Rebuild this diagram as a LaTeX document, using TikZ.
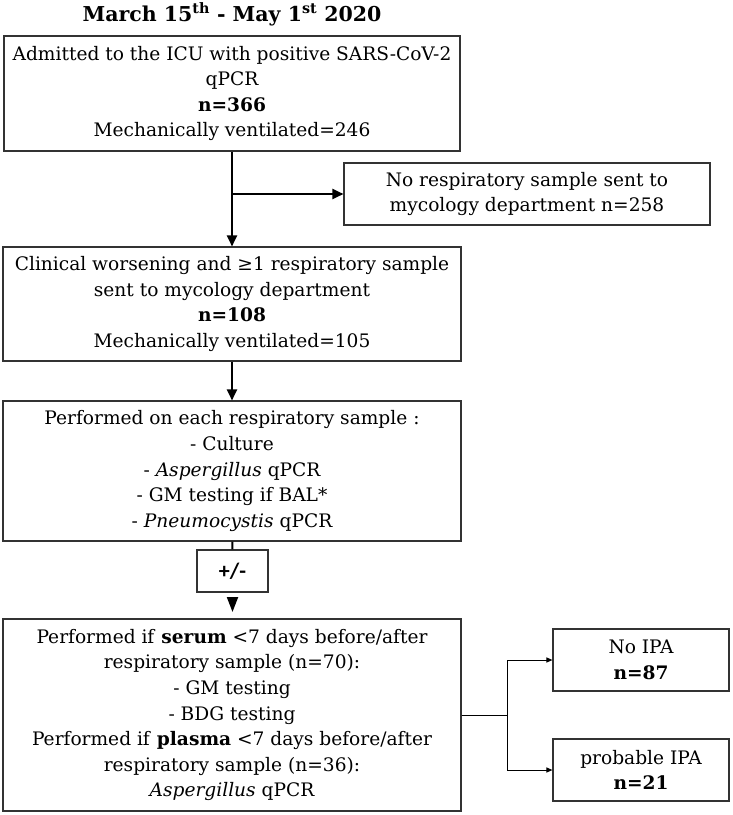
\documentclass[tikz,border=0pt]{standalone}
\usepackage{fontspec}
\setmainfont{DejaVu Serif}
\newfontfamily\signfont{Carlito}
\usetikzlibrary{arrows.meta, positioning}

\tikzset{
  flowbox/.style={draw=black!80, line width=1.1pt, align=center, inner sep=0pt,
    font=\fontsize{18.6}{25.6}\selectfont},
  flowarrow/.style={-{Triangle[length=11pt,width=10pt]}, line width=2pt},
  thinarrow/.style={-{Triangle[length=6pt,width=5pt]}, line width=1pt},
}

\begin{document}
\begin{tikzpicture}[x=1pt,y=-1pt]
  \useasboundingbox (0,0) rectangle (733,815);

  % title
  \node[anchor=base, font=\bfseries\fontsize{20.5}{24}\selectfont] (title) at (232,21)
    {March 15\textsuperscript{th} - May 1\textsuperscript{st} 2020};

  % main column
  \node[flowbox, minimum width=456pt, minimum height=115pt] (adm) at (232,93.5)
    {Admitted to the ICU with positive SARS-CoV-2\\ qPCR\\ \textbf{n=366}\\ Mechanically ventilated=246};
  \node[flowbox, minimum width=366pt, minimum height=62pt] (nosamp) at (527,194)
    {No respiratory sample sent to\\ mycology department n=258};
  \node[flowbox, minimum width=458pt, minimum height=114pt] (clin) at (232,304)
    {Clinical worsening and ≥1 respiratory sample\\ sent to mycology department\\ \textbf{n=108}\\ Mechanically ventilated=105};
  \node[flowbox, minimum width=458pt, minimum height=140pt] (perf) at (232,471)
    {Performed on each respiratory sample :\\ - Culture\\ - \textit{Aspergillus} qPCR\\ - GM testing if BAL*\\ - \textit{Pneumocystis} qPCR};
  \node[flowbox, minimum width=71pt, minimum height=42pt, font=\signfont\bfseries\fontsize{22}{24}\selectfont] (pm) at (232.5,571) {+/-};
  \coordinate (tip) at (232.5,612);
  \node[flowbox, minimum width=458pt, minimum height=192pt] (blood) at (232,715)
    {Performed if \textbf{serum} <7 days before/after\\ respiratory sample (n=70):\\ - GM testing\\ - BDG testing\\
     Performed if \textbf{plasma} <7 days before/after\\ respiratory sample (n=36):\\ \textit{Aspergillus} qPCR};

  % outcomes
  \node[flowbox, minimum width=176pt, minimum height=62pt] (noipa) at (641,660)
    {No IPA\\ \textbf{n=87}};
  \node[flowbox, minimum width=176pt, minimum height=62pt] (proba) at (641,770)
    {probable IPA\\ \textbf{n=21}};

  % connectors
  \draw[flowarrow] (adm) -- (clin);
  \draw[flowarrow] (adm.south |- nosamp.west) -- (nosamp);
  \draw[flowarrow] (clin) -- (perf);
  \draw[line width=2pt] (perf) -- (pm);
  \draw[-{Triangle[length=15pt,width=11pt]}, line width=2pt, shorten <=5pt] (pm) -- (tip);
  \draw[thinarrow] (blood.east) -- ++(46,0) |- (noipa);
  \draw[thinarrow] (blood.east) -- ++(46,0) |- (proba);
\end{tikzpicture}
\end{document}
